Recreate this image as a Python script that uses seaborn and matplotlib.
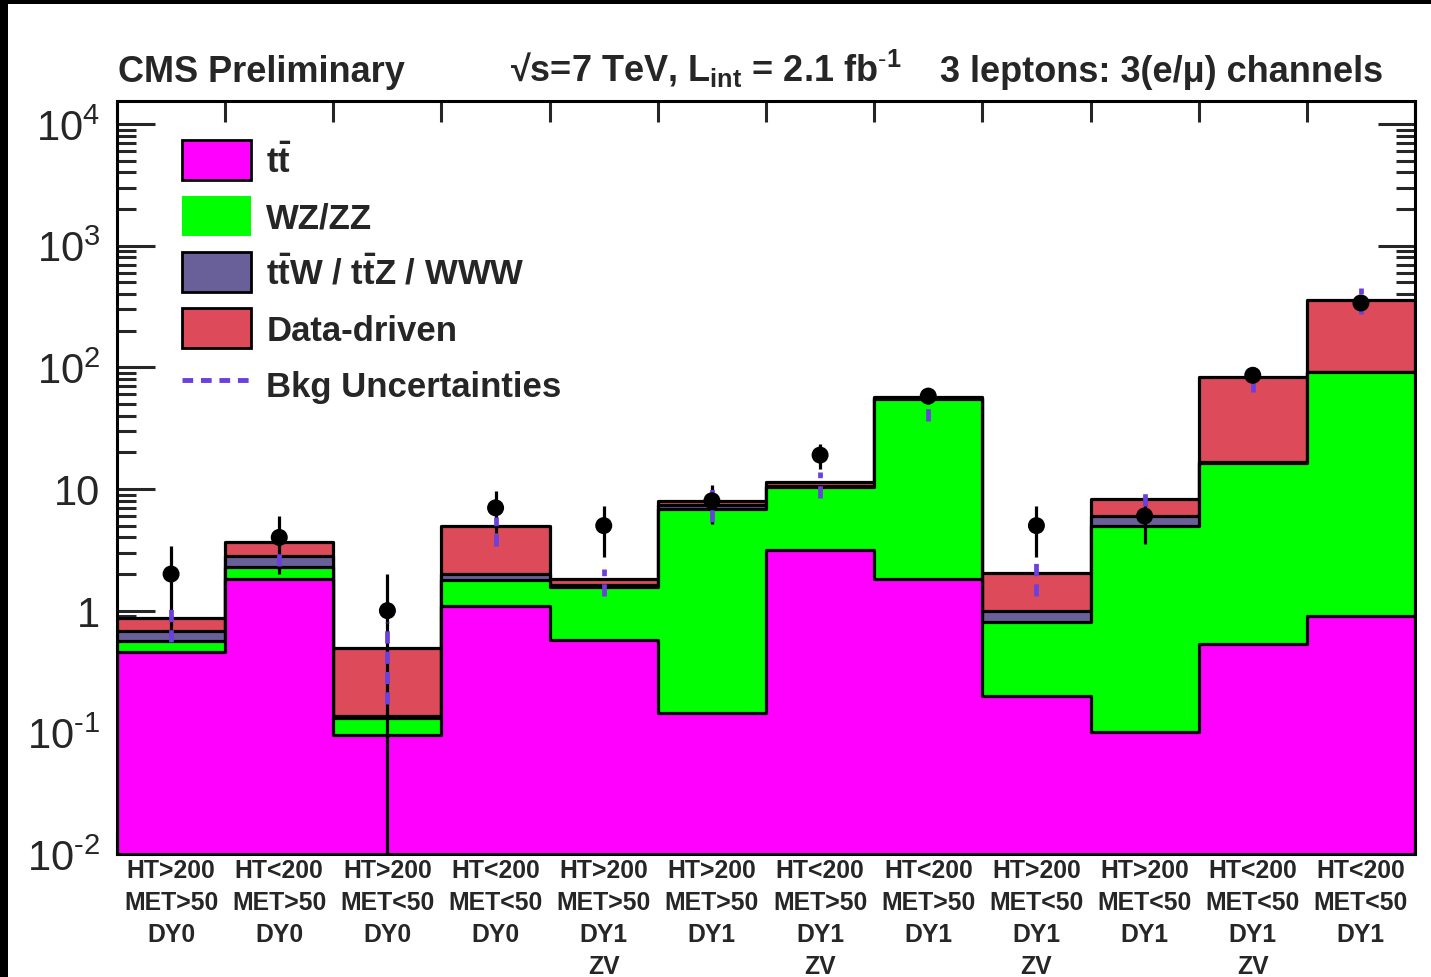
import numpy as np
import pandas as pd
import matplotlib
matplotlib.use("Agg")
import matplotlib.pyplot as plt
from matplotlib.patches import Patch, Rectangle
from matplotlib.lines import Line2D
import seaborn as sns

# ---- signal-region yields (events per region) ----
regions = [
    "HT>200\nMET>50\nDY0", "HT<200\nMET>50\nDY0", "HT>200\nMET<50\nDY0",
    "HT<200\nMET<50\nDY0", "HT>200\nMET>50\nDY1\nZV", "HT>200\nMET>50\nDY1",
    "HT<200\nMET>50\nDY1\nZV", "HT<200\nMET>50\nDY1", "HT>200\nMET<50\nDY1\nZV",
    "HT>200\nMET<50\nDY1", "HT<200\nMET<50\nDY1\nZV", "HT<200\nMET<50\nDY1",
]
ttbar = [0.46, 1.82, 0.095, 1.09, 0.575, 0.145, 3.16, 1.82, 0.20, 0.10, 0.533, 0.906]
wz_zz = [0.105, 0.47, 0.037, 0.68, 0.99, 6.72, 7.2, 53.2, 0.61, 4.9, 15.9, 90.1]
ttw_ttz_www = [0.12, 0.50, 0.003, 0.22, 0.06, 0.55, 0.15, 0.45, 0.18, 1.0, 0.3, 0.5]
data_driven = [0.19, 0.85, 0.36, 3.0, 0.20, 0.60, 1.0, 1.6, 1.04, 2.3, 66.0, 268.0]
observed = [2, 4, 1, 7, 5, 8, 19, 58, 5, 6, 86, 338]
bkg_unc_low = [0.555, 2.35, 0.17, 3.43, 1.33, 5.4, 8.4, 36.5, 1.33, 7.3, 62.4, 275.0]
bkg_unc_high = [1.18, 3.3, 0.81, 5.87, 2.2, 10.5, 13.7, 77.8, 2.75, 10.2, 100.0, 447.0]

legend_labels = [r"t$\mathregular{\bar{t}}$", "WZ/ZZ",
                 r"t$\mathregular{\bar{t}}$W / t$\mathregular{\bar{t}}$Z / WWW",
                 "Data-driven", "Bkg Uncertainties"]

c_tt = "#FF00FF"
c_wz = "#00FF00"
c_ttw = "#6A6099"
c_dd = "#DD4B5A"
c_unc = "#6B40DC"

sns.set_theme(style="white")
plt.rcParams["font.family"] = ["Liberation Sans", "DejaVu Sans"]
plt.rcParams["mathtext.fontset"] = "custom"
plt.rcParams["mathtext.rm"] = "Liberation Sans"
plt.rcParams["mathtext.it"] = "Liberation Sans:italic"
plt.rcParams["mathtext.bf"] = "Liberation Sans:bold"

n = len(regions)
edges = np.arange(n + 1)
centers = edges[:-1] + 0.5

stack = pd.DataFrame({
    "center": centers,
    "ttbar": ttbar,
    "wz": wz_zz,
    "ttw": ttw_ttz_www,
    "dd": data_driven,
})
cum = stack[["ttbar", "wz", "ttw", "dd"]].cumsum(axis=1)
cum["center"] = centers

fig = plt.figure(figsize=(14.31, 9.78), dpi=100)
ax = fig.add_axes([0.08176, 0.12577, 0.90706, 0.76994])

# stacked histogram: draw the tallest cumulative layer first
lw_hist = 2.3
for col, colr in [("dd", c_dd), ("ttw", c_ttw), ("wz", c_wz), ("ttbar", c_tt)]:
    sns.histplot(data=cum, x="center", weights=col, bins=list(edges), element="step",
                 fill=True, color=colr, alpha=1, edgecolor="black",
                 linewidth=lw_hist, ax=ax)

ax.set_yscale("log")
ax.set_xlim(0, n)
ax.set_ylim(1e-2, 10 ** 4.189)

# observed data with sqrt(N) errors
obs = np.array(observed, dtype=float)
err = np.sqrt(obs)
ax.errorbar(centers, obs, yerr=[np.minimum(err, obs), err], fmt="none",
            ecolor="black", elinewidth=2.3, capsize=0, zorder=3)

# background uncertainty bands
ax.vlines(centers, bkg_unc_low, bkg_unc_high, colors=c_unc,
          linestyles=(0, (2.6, 1.7)), linewidth=3.4, zorder=4)

sns.scatterplot(x=centers, y=obs, color="black", s=150, edgecolor="none",
                ax=ax, zorder=5, legend=False)

ax.set_xlabel("")
ax.set_ylabel("")

# axes styling
for sp in ax.spines.values():
    sp.set_linewidth(2.2)
    sp.set_color("black")
    sp.set_visible(True)

ax.set_xticks(edges)
ax.set_xticklabels([])
ax.set_xticks(centers, minor=True)
ax.set_xticklabels(regions, minor=True, fontsize=17.8, fontweight="bold",
                   linespacing=1.42)
ax.tick_params(axis="x", which="major", direction="in", length=15, width=2.2,
               top=True, bottom=True, labelbottom=False)
ax.tick_params(axis="x", which="minor", length=0, pad=3, top=False)

ytick_vals = [1e-2, 1e-1, 1, 10, 1e2, 1e3, 1e4]
ytick_labels = [r"$\mathregular{10^{\text{-}2}}$", r"$\mathregular{10^{\text{-}1}}$",
                "1", "10",
                r"$\mathregular{10^{2}}$", r"$\mathregular{10^{3}}$",
                r"$\mathregular{10^{4}}$"]
ax.set_yticks(ytick_vals)
ax.set_yticklabels(ytick_labels, fontsize=30)
ax.yaxis.set_minor_locator(matplotlib.ticker.LogLocator(base=10, subs=np.arange(2, 10)))
ax.yaxis.set_minor_formatter(matplotlib.ticker.NullFormatter())
ax.tick_params(axis="y", which="major", direction="in", length=27, width=2.2,
               left=True, right=True, pad=12)
ax.tick_params(axis="y", which="minor", direction="in", length=13.5, width=2.2,
               left=True, right=True)

# legend
handles = [
    Patch(facecolor=c_tt, edgecolor="black", linewidth=2),
    Patch(facecolor=c_wz, edgecolor="none"),
    Patch(facecolor=c_ttw, edgecolor="black", linewidth=2),
    Patch(facecolor=c_dd, edgecolor="black", linewidth=2),
    Line2D([], [], color=c_unc, linestyle=(0, (2.2, 1.6)), linewidth=3.5),
]
leg = ax.legend(handles, legend_labels, loc="upper left",
                bbox_to_anchor=(0.050, 0.948), frameon=False,
                prop={"size": 25, "weight": "bold"},
                handlelength=2.0, handleheight=1.40, labelspacing=0.46,
                handletextpad=0.43, borderpad=0, borderaxespad=0)

# header texts
fig.text(118 / 1431, 1 - 82 / 978, "CMS Preliminary", fontsize=26,
         fontweight="bold", ha="left", va="baseline")
fig.text(510 / 1431, 1 - 82 / 978,
         "\u221as=7 TeV, L$_\\mathregular{int}$ = 2.1 fb$^\\mathregular{\\text{-}1}$",
         fontsize=26, fontweight="bold", ha="left", va="baseline")
fig.text(940 / 1431, 1 - 82 / 978, "3 leptons: 3(e/\u03bc) channels", fontsize=26,
         fontweight="bold", ha="left", va="baseline")

# black frame strips along top and left edges
fig.patches.append(Rectangle((0, 1 - 5 / 978), 1, 5 / 978, transform=fig.transFigure,
                             facecolor="black", edgecolor="none", zorder=10))
fig.patches.append(Rectangle((0, 0), 8 / 1431, 1, transform=fig.transFigure,
                             facecolor="black", edgecolor="none", zorder=10))

fig.savefig("out.png", dpi=100, facecolor="white")
